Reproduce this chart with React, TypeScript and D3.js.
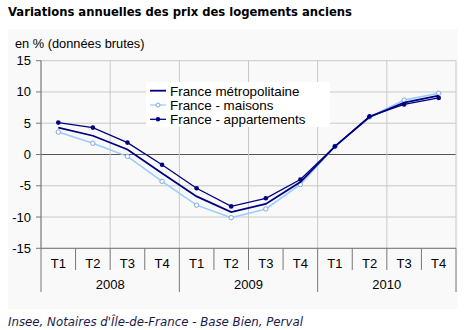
import React from "react";
import * as d3 from "d3";

const quarters = ["T1", "T2", "T3", "T4", "T1", "T2", "T3", "T4", "T1", "T2", "T3", "T4"];
const years = ["2008", "2009", "2010"];
const yTicks = [15, 10, 5, 0, -5, -10, -15];
const seriesNames = ["France métropolitaine", "France - maisons", "France - appartements"];
const metro = [4.3, 3.0, 0.8, -3.0, -6.7, -9.2, -7.9, -4.4, 1.3, 6.0, 8.3, 9.4];
const maisons = [3.6, 1.8, -0.3, -4.3, -8.1, -10.1, -8.7, -4.8, 1.3, 6.0, 8.7, 9.8];
const appartements = [5.1, 4.3, 1.9, -1.65, -5.4, -8.3, -7.0, -4.0, 1.3, 6.1, 8.0, 9.05];

const NAVY = "#000080";
const LIGHT = "#99ccff";

export default function App() {
  const left = 41, right = 456, top = 60.7, bottom = 248.3;
  const idx = quarters.map((_, i) => String(i));
  const x = d3.scaleBand<string>().domain(idx).range([left, right]).padding(0);
  const y = d3.scaleLinear().domain([-15, 15]).range([bottom, top]);
  const cx = (i: number) => (x(String(i)) as number) + x.bandwidth() / 2;
  const line = d3.line<number>().x((_, i) => cx(i)).y((d) => y(d));
  const bw = x.bandwidth();
  const font = "'Liberation Sans', Arial, sans-serif";

  return (
    <svg width={470} height={330} style={{ position: "absolute", left: 0, top: 0, background: "#fff" }}>
      <text x={8} y={16} fontFamily="'DejaVu Sans', Verdana, sans-serif" fontWeight="bold" fontSize={11.6} fill="#000">
        Variations annuelles des prix des logements anciens
      </text>
      <rect x={8} y={29} width={450} height={280} fill="#f9f9f9" />
      <text x={15} y={48} fontFamily={font} fontSize={12.8} fill="#000">en % (données brutes)</text>

      {yTicks.map((t) => (
        <line key={"h" + t} x1={left} x2={right} y1={y(t)} y2={y(t)} stroke={t === 0 ? "#555" : "#c8c8c8"} strokeWidth={1} />
      ))}
      {d3.range(0, 13, 2).map((i) => {
        const xx = left + i * bw;
        return <line key={"v" + i} x1={xx} x2={xx} y1={top} y2={bottom} stroke="#c8c8c8" strokeWidth={1} />;
      })}
      <line x1={left} x2={left} y1={top} y2={bottom} stroke="#777" />
      {yTicks.map((t) => (
        <g key={"yt" + t}>
          <line x1={left - 5} x2={left} y1={y(t)} y2={y(t)} stroke="#777" />
          <text x={31} y={y(t) + 4.5} textAnchor="end" fontFamily={font} fontSize={13} fill="#000">{t}</text>
        </g>
      ))}
      <line x1={left} x2={right} y1={bottom} y2={bottom} stroke="#777" />
      {d3.range(0, 13).map((i) => {
        const xx = left + i * bw;
        const isYear = i % 4 === 0;
        return <line key={"xt" + i} x1={xx} x2={xx} y1={bottom} y2={isYear ? 292 : 270} stroke="#777" />;
      })}
      {quarters.map((q, i) => (
        <text key={"q" + i} x={cx(i)} y={267.5} textAnchor="middle" fontFamily={font} fontSize={13} fill="#000">{q}</text>
      ))}
      {years.map((yr, i) => (
        <text key={"y" + yr} x={left + (i * 4 + 2) * bw} y={289} textAnchor="middle" fontFamily={font} fontSize={13} fill="#000">{yr}</text>
      ))}

      <path d={line(maisons) as string} fill="none" stroke={LIGHT} strokeWidth={1.6} />
      {maisons.map((v, i) => (
        <circle key={"m" + i} cx={cx(i)} cy={y(v)} r={2.2} fill="#fff" stroke="#7fa8e0" strokeWidth={1} />
      ))}
      <path d={line(metro) as string} fill="none" stroke={NAVY} strokeWidth={1.8} />
      <path d={line(appartements) as string} fill="none" stroke={NAVY} strokeWidth={1.3} />
      {appartements.map((v, i) => (
        <circle key={"a" + i} cx={cx(i)} cy={y(v)} r={2.3} fill={NAVY} />
      ))}

      <rect x={146} y={82} width={184} height={45} fill="#fff" />
      {seriesNames.map((n, i) => {
        const ly = 90.7 + i * 14.3;
        return (
          <g key={"l" + i}>
            <line x1={150} x2={166} y1={ly} y2={ly} stroke={i === 1 ? LIGHT : NAVY} strokeWidth={i === 0 ? 1.8 : 1.3} />
            {i === 1 && <circle cx={158} cy={ly} r={2} fill="#fff" stroke="#7fa8e0" />}
            {i === 2 && <circle cx={158} cy={ly} r={2.2} fill={NAVY} />}
            <text x={170} y={ly + 4.8} fontFamily={font} fontSize={13.4} fill="#000">{n}</text>
          </g>
        );
      })}

      <text x={8} y={326} fontFamily="'DejaVu Sans', Verdana, sans-serif" fontStyle="italic" fontSize={11.8} fill="#1a1a4a">
        Insee, Notaires d'Île-de-France - Base Bien, Perval
      </text>
    </svg>
  );
}
